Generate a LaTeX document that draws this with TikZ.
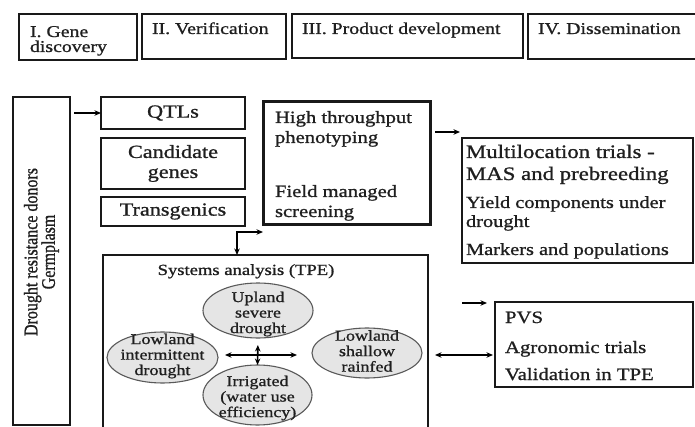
\documentclass[tikz,border=0pt]{standalone}
\usepackage{fontspec}
\setmainfont{Liberation Serif}[FakeStretch=1.2,FakeBold=1]
\newfontfamily\rotfont{Liberation Serif}[FakeBold=1]
\usetikzlibrary{arrows.meta,calc,shapes.geometric}
\usepackage{graphicx}
\newcommand{\myfs}[2]{\fontsize{#1}{#2}\selectfont}
\begin{document}
\begin{tikzpicture}[x=1pt,y=-1pt,
  box/.style={draw=black!90, rectangle, inner sep=0pt, outer sep=0pt, anchor=north west},
  txt/.style={inner sep=0pt, outer sep=0pt, anchor=base west, text=black!88},
  toptxt/.style={txt, font=\myfs{16.5}{16}},
  oval/.style={ellipse, draw=black!65, fill=black!10, line width=1.1pt, inner sep=0pt, outer sep=0pt},
  ovaltxt/.style={inner sep=0pt, align=center, font=\myfs{15}{15.5}, text=black!88},
  tipA/.tip={Stealth[length=6.5pt,width=5.5pt]},
  arr/.style={line width=1.6pt, -tipA},
  dbl/.style={line width=1.6pt, tipA-tipA}]
\clip (0,0) rectangle (695,427);
\fill[white] (0,0) rectangle (695,427);
% top row
\node[box, line width=1.6pt, minimum width=118, minimum height=46] (g1) at (19,14) {};
\node[toptxt] (g1a) at (30,37) {I. Gene};
\node[toptxt] (g1b) at (30,52) {discovery};
\node[box, line width=1.6pt, minimum width=144, minimum height=45] (g2) at (142,14) {};
\node[toptxt] (g2a) at (152,34) {II. Verification};
\node[box, line width=1.6pt, minimum width=231, minimum height=44] (g3) at (292,14) {};
\node[toptxt] (g3a) at (302,34) {III. Product development};
\node[box, line width=1.6pt, minimum width=175, minimum height=45] (g4) at (528,14) {};
\node[toptxt] (g4a) at (538,34) {IV. Dissemination};
% donors
\node[box, line width=2.2pt, minimum width=57, minimum height=328] (donors) at (13,97) {};
\node[rotate=90, inner sep=0pt, text=black!88, font=\rotfont\myfs{16}{11.7}] (donorstxt) at (41.5,252)
  {\scalebox{1}[1.2]{\begin{tabular}{@{}c@{}}Drought resistance donors\\Germplasm\end{tabular}}};
% gene discovery boxes
\node[box, line width=2pt, minimum width=144, minimum height=32, font=\myfs{18.5}{20}, text=black!88] (qtl) at (101,97) {QTLs};
\node[box, line width=2pt, minimum width=144, minimum height=51, align=center, font=\myfs{18.5}{20}, text=black!88] (cand) at (101,138) {Candidate\\genes};
\node[box, line width=2pt, minimum width=144, minimum height=29, font=\myfs{18.5}{20}, text=black!88] (trans) at (101,197) {Transgenics};
% phenotyping
\node[box, line width=3pt, minimum width=167, minimum height=123] (htp) at (263,102) {};
\node[txt, font=\myfs{17.2}{18}] (htp1) at (275,123) {High throughput};
\node[txt, font=\myfs{17.2}{18}] (htp2) at (275,143) {phenotyping};
\node[txt, font=\myfs{17.2}{18}] (htp3) at (275,197) {Field managed};
\node[txt, font=\myfs{17.2}{18}] (htp4) at (275,217) {screening};
% multilocation
\node[box, line width=1.2pt, minimum width=231, minimum height=125] (multi) at (462,138) {};
\node[txt, font=\myfs{19}{20}] (m1) at (466,158) {Multilocation trials -};
\node[txt, font=\myfs{19}{20}] (m2) at (466,180) {MAS and prebreeding};
\node[txt, font=\myfs{17}{18}] (m3) at (466,208) {Yield components under};
\node[txt, font=\myfs{17}{18}] (m4) at (466,227) {drought};
\node[txt, font=\myfs{17}{18}] (m5) at (466,255) {Markers and populations};
% systems analysis
\node[box, line width=2.5pt, minimum width=325, minimum height=200] (sys) at (103,255) {};
\node[inner sep=0pt, anchor=base, font=\myfs{15.5}{16}, text=black!88] (systxt) at (246,275) {Systems analysis (TPE)};
\node[oval, minimum width=110, minimum height=55] (up) at (258,310.5) {};
\node[oval, minimum width=111, minimum height=51] (low1) at (162.5,357.5) {};
\node[oval, minimum width=109, minimum height=60] (irr) at (257.5,395) {};
\node[oval, minimum width=110, minimum height=50] (low2) at (367,353) {};
\node[ovaltxt] (uptxt) at (258,314) {Upland\\severe\\drought};
\node[ovaltxt] (low1txt) at (162.5,356) {Lowland\\intermittent\\drought};
\node[ovaltxt] (irrtxt) at (257.5,398) {Irrigated\\(water use\\efficiency)};
\node[ovaltxt] (low2txt) at (367,351) {Lowland\\shallow\\rainfed};
% PVS
\node[box, line width=1.2pt, minimum width=198, minimum height=85] (pvs) at (495,302) {};
\node[txt, font=\myfs{17.3}{18}] (pvs1) at (505,323) {PVS};
\node[txt, font=\myfs{17.3}{18}] (pvs2) at (505,353) {Agronomic trials};
\node[txt, font=\myfs{17.3}{18}] (pvs3) at (505,380) {Validation in TPE};
% connectors
\draw[arr, shorten <=4pt] (donors.east |- qtl.west) -- (qtl.west);
\coordinate (a1) at ($(multi.north west)+(-2,-6)$);
\draw[arr, shorten <=5pt] (htp.east |- a1) -- (a1);
\coordinate (k) at (237,232);
\draw[dbl] (k -| htp.west) -- (k) -- (k |- sys.north);
\coordinate (m) at (0,355);
\draw[dbl, shorten <=7pt, shorten >=2pt] (sys.east |- m) -- (pvs.west |- m);
\coordinate (p1) at ($(pvs.north west)+(-33,1)$);
\coordinate (p2) at ($(pvs.north west)+(-8,1)$);
\draw[arr] (p1) -- (p2);
\draw[dbl, shorten <=7pt, shorten >=15pt] (low1.east |- m) -- (low2.west |- m);
\draw[dbl, shorten <=7pt] (up.south) -- (irr.north);
\end{tikzpicture}
\end{document}
